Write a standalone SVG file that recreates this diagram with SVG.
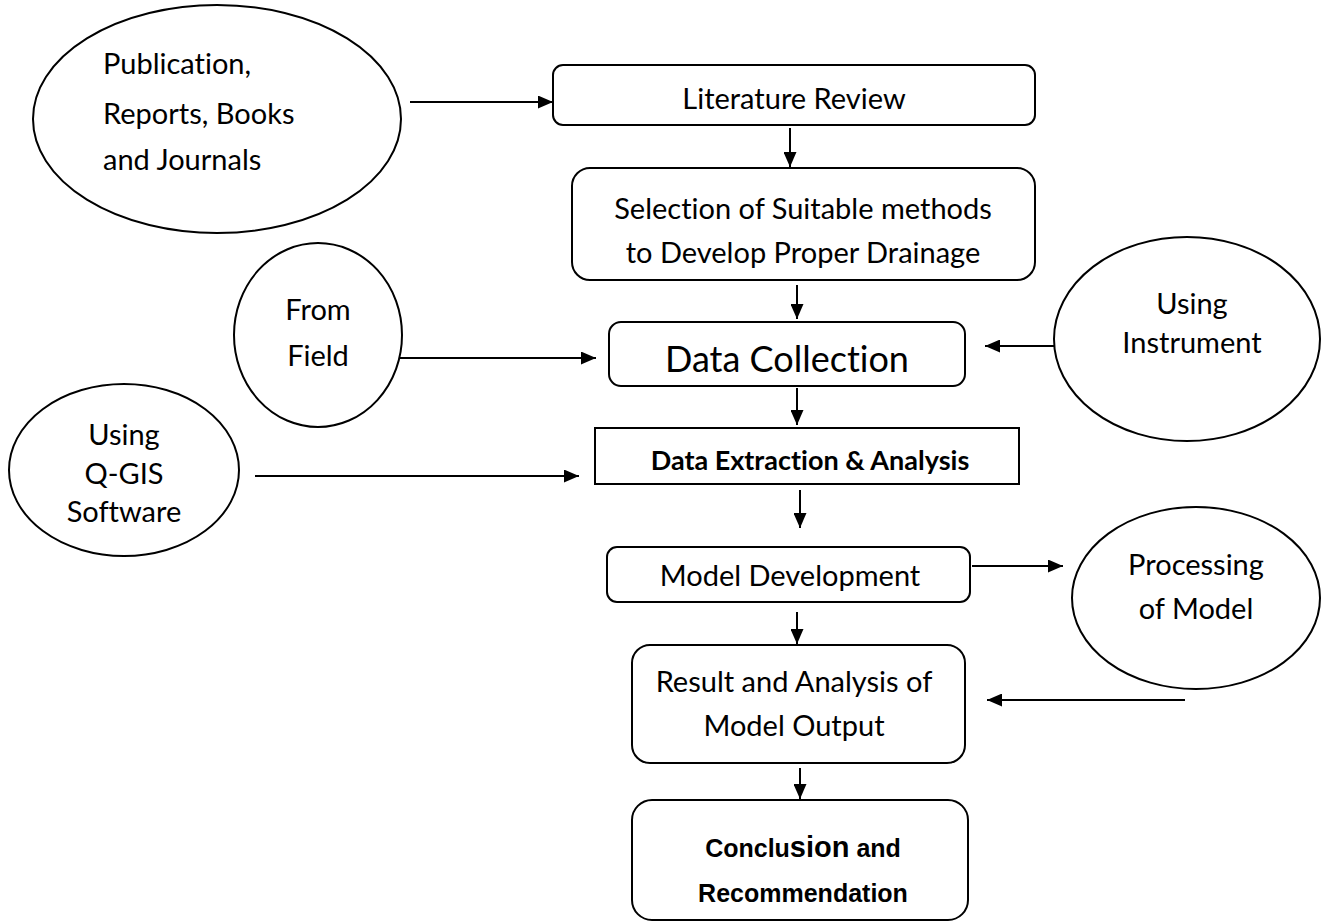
<svg xmlns="http://www.w3.org/2000/svg" width="1327" height="924" viewBox="0 0 1327 924">
<style>
.shape{fill:#fff;stroke:#000;stroke-width:2}
.t{font-family:Lato,"Open Sans","Liberation Sans",sans-serif;font-size:29px;fill:#000;text-anchor:middle;dominant-baseline:central;font-variant-ligatures:none}
.tl{text-anchor:start}
.big{font-size:36px}
.b{font-weight:bold;font-size:27px}
.arial{font-family:"Liberation Sans",Arial,sans-serif;font-weight:bold;font-size:25px;fill:#000;text-anchor:middle}
.c{stroke:#000;stroke-width:2;fill:none;marker-end:url(#ah)}
</style>
<defs>
<marker id="ah" markerUnits="userSpaceOnUse" markerWidth="15" markerHeight="13" refX="15" refY="6.5" orient="auto">
<path d="M0,0 L15,6.5 L0,13 Z" fill="#000"/>
</marker>
</defs>
<rect width="1327" height="924" fill="#fff"/>
<g id="connectors">
<line class="c" x1="410" y1="102" x2="553" y2="102"/>
<line class="c" x1="790" y1="128" x2="790" y2="167"/>
<line class="c" x1="797" y1="285" x2="797" y2="319"/>
<line class="c" x1="400" y1="358" x2="596" y2="358"/>
<line class="c" x1="1055" y1="346" x2="985" y2="346"/>
<line class="c" x1="797" y1="388" x2="797" y2="425"/>
<line class="c" x1="255" y1="476" x2="579" y2="476"/>
<line class="c" x1="800" y1="490" x2="800" y2="528"/>
<line class="c" x1="972" y1="566" x2="1063" y2="566"/>
<line class="c" x1="797" y1="612" x2="797" y2="644"/>
<line class="c" x1="1185" y1="700" x2="987" y2="700"/>
<line class="c" x1="800" y1="768" x2="800" y2="799"/>
</g>
<g id="pub">
<ellipse class="shape" cx="217" cy="119" rx="184" ry="114"/>
<text class="t tl" x="103" y="62">Publication,</text>
<text class="t tl" x="103" y="112">Reports, Books</text>
<text class="t tl" x="103" y="158">and Journals</text>
</g>
<g id="lit">
<rect class="shape" x="553" y="65" width="482" height="60" rx="10"/>
<text class="t" x="794" y="97">Literature Review</text>
</g>
<g id="sel">
<rect class="shape" x="572" y="168" width="463" height="112" rx="18"/>
<text class="t" x="803" y="207">Selection of Suitable methods</text>
<text class="t" x="803" y="251">to Develop Proper Drainage</text>
</g>
<g id="field">
<ellipse class="shape" cx="318" cy="335" rx="84" ry="92"/>
<text class="t" x="318" y="308">From</text>
<text class="t" x="318" y="354">Field</text>
</g>
<g id="datacoll">
<rect class="shape" x="609" y="322" width="356" height="64" rx="12"/>
<text class="t big" x="787" y="358">Data Collection</text>
</g>
<g id="instr">
<ellipse class="shape" cx="1187" cy="339" rx="133" ry="102"/>
<text class="t" x="1192" y="302">Using</text>
<text class="t" x="1192" y="341">Instrument</text>
</g>
<g id="qgis">
<ellipse class="shape" cx="124" cy="470" rx="115" ry="86"/>
<text class="t" x="124" y="433">Using</text>
<text class="t" x="124" y="472">Q-GIS</text>
<text class="t" x="124" y="510">Software</text>
</g>
<g id="extract">
<rect class="shape" x="595" y="428" width="424" height="56"/>
<text class="t b" x="810" y="459">Data Extraction &amp; Analysis</text>
</g>
<g id="model">
<rect class="shape" x="607" y="547" width="363" height="55" rx="10"/>
<text class="t" x="790" y="574">Model Development</text>
</g>
<g id="proc">
<ellipse class="shape" cx="1196" cy="598" rx="124" ry="91"/>
<text class="t" x="1196" y="563">Processing</text>
<text class="t" x="1196" y="607">of Model</text>
</g>
<g id="result">
<rect class="shape" x="632" y="645" width="333" height="118" rx="18"/>
<text class="t" x="794" y="680">Result and Analysis of</text>
<text class="t" x="794" y="724">Model Output</text>
</g>
<g id="concl">
<rect class="shape" x="632" y="800" width="336" height="120" rx="20"/>
<text class="arial" x="803" y="857">Conclu<tspan font-size="29">sion</tspan> and</text>
<text class="arial" x="803" y="902">Recommendation</text>
</g>
</svg>
